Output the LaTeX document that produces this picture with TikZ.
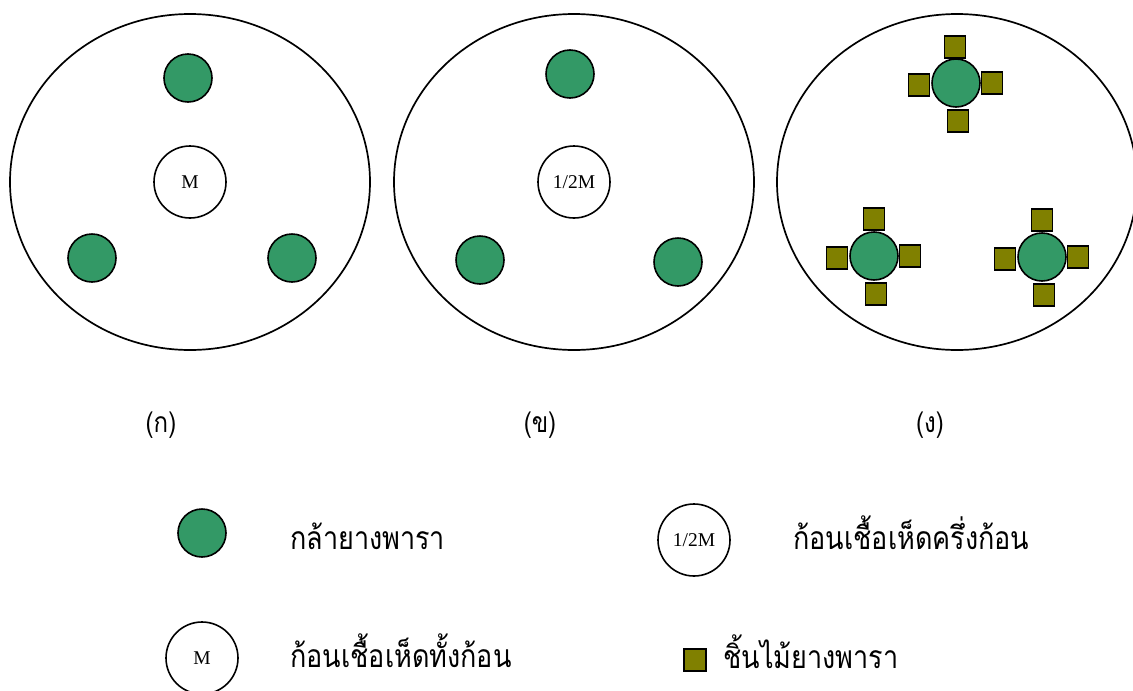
\documentclass[tikz,border=0pt]{standalone}
\usepackage{fontspec}
\usetikzlibrary{shapes.geometric}
\setmainfont{Liberation Serif}
\newfontfamily\thaifont[Script=Thai]{Loma}
\definecolor{tree}{HTML}{339966}
\definecolor{wood}{HTML}{808000}
\newcommand{\tallthai}[1]{\scalebox{1}[1.18]{#1}}
\begin{document}
\begin{tikzpicture}[x=1pt,y=-1pt,
  field/.style={draw,line width=1.7pt,ellipse,minimum width=360pt,minimum height=336pt,inner sep=0pt},
  seedling/.style={draw,line width=1.6pt,circle,fill=tree,minimum size=48pt,inner sep=0pt},
  spawn/.style={draw,line width=1.6pt,circle,fill=white,minimum size=72pt,inner sep=0pt,font=\fontsize{19.5}{20}\selectfont},
  piece/.style={draw,line width=1.6pt,fill=wood,minimum width=21pt,minimum height=22pt,inner sep=0pt},
  thai/.style={font=\thaifont\fontsize{27}{30}\selectfont,inner sep=0pt},
  captxt/.style={font=\thaifont\fontsize{24}{28}\selectfont,inner sep=0pt}
]
\useasboundingbox (0,0) rectangle (1133,691);
% panel 1
\node[field] (f1) at (190,182) {};
\node[seedling] (a1) at (188,78) {};
\node[seedling] (a2) at (92,258) {};
\node[seedling] (a3) at (292,258) {};
\node[spawn] (m1) at (190,182) {M};
% panel 2
\node[field] (f2) at (574,182) {};
\node[seedling] (b1) at (570,74) {};
\node[seedling] (b2) at (480,260) {};
\node[seedling] (b3) at (678,262) {};
\node[spawn] (m2) at (574,182) {1/2M};
% panel 3
\node[field] (f3) at (957,182) {};
\node[seedling] (c1) at (956,83) {};
\node[piece] (c1t) at (955,47) {};
\node[piece] (c1l) at (919,85) {};
\node[piece] (c1r) at (992,83) {};
\node[piece] (c1b) at (958,121) {};
\node[seedling] (c2) at (874,256) {};
\node[piece] (c2t) at (874,219) {};
\node[piece] (c2l) at (837,258) {};
\node[piece] (c2r) at (910,256) {};
\node[piece] (c2b) at (876,294) {};
\node[seedling] (c3) at (1042,257) {};
\node[piece] (c3t) at (1042,220) {};
\node[piece] (c3l) at (1005,259) {};
\node[piece] (c3r) at (1078,257) {};
\node[piece] (c3b) at (1044,295) {};
% captions
\node[captxt,anchor=base] (l1) at (161,432) {\tallthai{(ก)}};
\node[captxt,anchor=base] (l2) at (540,432) {\tallthai{(ข)}};
\node[captxt,anchor=base] (l3) at (930,432) {\tallthai{(ง)}};
% legend
\node[seedling] (g1) at (202,533) {};
\node[thai,anchor=base west] (t1) at (290,549) {\tallthai{กล้ายางพารา}};
\node[spawn] (g2) at (202,658) {M};
\node[thai,anchor=base west] (t2) at (290,667) {\tallthai{ก้อนเชื้อเห็ดทั้งก้อน}};
\node[spawn] (g3) at (694,540) {1/2M};
\node[thai,anchor=base west] (t3) at (793,549) {\tallthai{ก้อนเชื้อเห็ดครึ่งก้อน}};
\node[piece,minimum width=22pt,minimum height=22pt] (g4) at (695,660) {};
\node[thai,anchor=base west] (t4) at (723,668) {\tallthai{ชิ้นไม้ยางพารา}};
\end{tikzpicture}
\end{document}
